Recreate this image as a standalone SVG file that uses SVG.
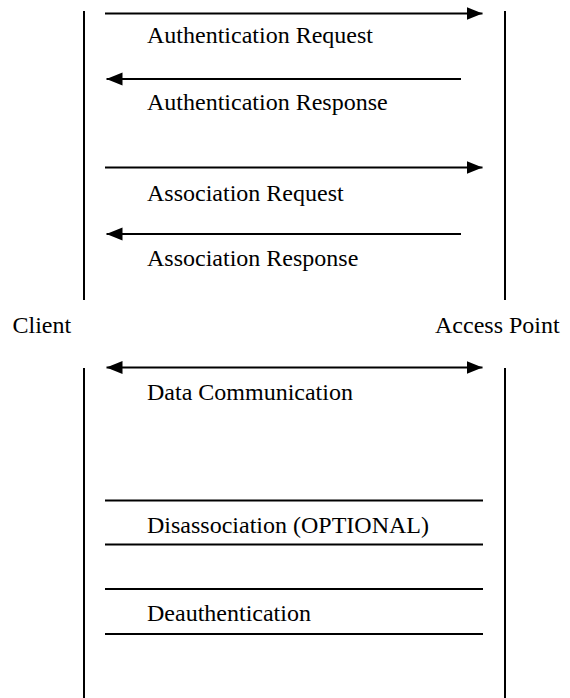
<svg xmlns="http://www.w3.org/2000/svg" width="570" height="698" viewBox="0 0 570 698">
  <style>
    .life { stroke: #000; stroke-width: 2; fill: none; }
    .msg { stroke: #000; stroke-width: 2; fill: none; }
    text { font-family: 'Liberation Serif', 'Times New Roman', serif; font-size: 24px; fill: #000; }
  </style>
  <defs>
    <marker id="ah" markerUnits="userSpaceOnUse" markerWidth="16" markerHeight="14" viewBox="0 0 16 14" refX="16" refY="7" orient="auto-start-reverse">
      <path d="M0,0.5 L16,7 L0,13.5 z" fill="#000"/>
    </marker>
  </defs>
  <rect width="570" height="698" fill="#fff"/>

  <g id="client">
    <line class="life" x1="84" y1="11" x2="84" y2="300"/>
    <line class="life" x1="84" y1="368" x2="84" y2="698"/>
    <text x="12.5" y="333">Client</text>
  </g>

  <g id="access-point">
    <line class="life" x1="505" y1="11" x2="505" y2="300"/>
    <line class="life" x1="505" y1="368" x2="505" y2="698"/>
    <text x="435" y="333">Access Point</text>
  </g>

  <g id="connectors">
    <line class="msg" x1="105" y1="13.5" x2="482.5" y2="13.5" marker-end="url(#ah)"/>
    <line class="msg" x1="461" y1="79" x2="106.5" y2="79" marker-end="url(#ah)"/>
    <line class="msg" x1="105" y1="167.5" x2="482.5" y2="167.5" marker-end="url(#ah)"/>
    <line class="msg" x1="461" y1="234" x2="106.5" y2="234" marker-end="url(#ah)"/>
    <line class="msg" x1="106.5" y1="367.5" x2="482.5" y2="367.5" marker-start="url(#ah)" marker-end="url(#ah)"/>
    <line class="msg" x1="105" y1="500.5" x2="483" y2="500.5"/>
    <line class="msg" x1="105" y1="544.5" x2="483" y2="544.5"/>
    <line class="msg" x1="105" y1="589" x2="483" y2="589"/>
    <line class="msg" x1="105" y1="634" x2="483" y2="634"/>
  </g>

  <g id="labels">
    <text x="147" y="43">Authentication Request</text>
    <text x="147" y="110">Authentication Response</text>
    <text x="147" y="201">Association Request</text>
    <text x="147" y="266">Association Response</text>
    <text x="147" y="400">Data Communication</text>
    <text x="147" y="533">Disassociation (OPTIONAL)</text>
    <text x="147" y="621">Deauthentication</text>
  </g>
</svg>
